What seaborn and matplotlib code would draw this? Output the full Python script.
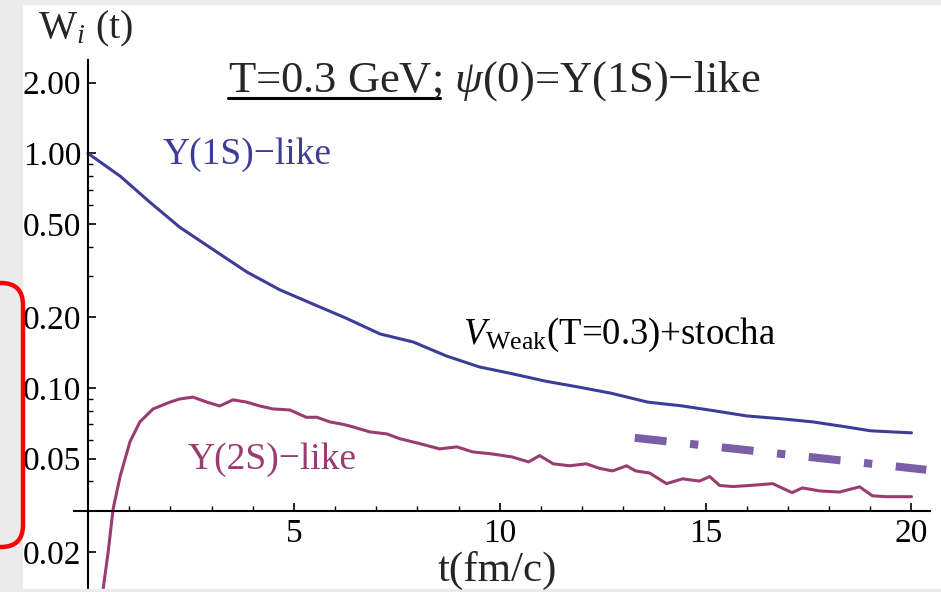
import numpy as np
import pandas as pd
import seaborn as sns
import matplotlib.pyplot as plt
from matplotlib.patches import Rectangle, FancyBboxPatch
from matplotlib.transforms import IdentityTransform
from matplotlib.lines import Line2D

#
# data
#

# Upsilon(1S)-like weight
t_1s = [0.0, 0.78, 1.5, 2.23, 3.03, 3.86, 4.66, 5.46, 6.28, 7.09, 7.9, 8.7, 9.5,
        10.3, 11.1, 11.9, 12.7, 13.6, 14.4, 15.2, 16.0, 16.8, 17.6, 18.4, 19.0, 19.5, 20.0]
w_1s = [1.0, 0.80, 0.62, 0.484, 0.39, 0.312, 0.262, 0.228, 0.198, 0.170, 0.157, 0.137, 0.123,
        0.115, 0.107, 0.101, 0.095, 0.087, 0.084, 0.080, 0.076, 0.074, 0.0717, 0.0683, 0.0657, 0.065, 0.0644]

# Upsilon(2S)-like weight
t_2s = [0.33, 0.37, 0.49, 0.61, 0.78, 1.02, 1.26, 1.58, 1.99, 2.23, 2.55, 2.89, 3.2, 3.52,
        3.86, 4.17, 4.49, 4.9, 5.3, 5.56, 5.87, 6.19, 6.43, 6.84, 7.26, 7.57, 8.06, 8.54,
        8.96, 9.34, 9.83, 10.3, 10.7, 10.97, 11.3, 11.7, 12.1, 12.43, 12.74, 13.08, 13.3,
        13.64, 14.05, 14.44, 14.85, 15.1, 15.34, 15.66, 16.07, 16.63, 17.1, 17.35, 17.77,
        18.25, 18.74, 19.05, 19.4, 19.7, 20.0]
w_2s = [0.010, 0.014, 0.020, 0.0305, 0.042, 0.059, 0.0717, 0.0814, 0.087, 0.0898, 0.0914, 0.087, 0.0838, 0.089,
        0.087, 0.0838, 0.0814, 0.0806, 0.075, 0.075, 0.0717, 0.070, 0.0683, 0.065, 0.0637, 0.0608, 0.0579, 0.055,
        0.0561, 0.0534, 0.0523, 0.0508, 0.0484, 0.0515, 0.0475, 0.0466, 0.0475, 0.0454, 0.0443, 0.0466, 0.0443,
        0.0434, 0.0391, 0.041, 0.0401, 0.0419, 0.0384, 0.038, 0.0384, 0.0391, 0.0358, 0.0375, 0.0364,
        0.036, 0.0379, 0.0347, 0.0344, 0.0344, 0.0344]

# dash-dot slope guide
t_guide = [13.28, 20.36]
w_guide = [0.0613, 0.0448]

x_ticks = [5, 10, 15, 20]
x_minor = [1, 2, 3, 4, 6, 7, 8, 9, 11, 12, 13, 14, 16, 17, 18, 19]
y_ticks = [0.02, 0.05, 0.10, 0.20, 0.50, 1.00, 2.00]
y_ticklabels = ["0.02", "0.05", "0.10", "0.20", "0.50", "1.00", "2.00"]
y_minor = [0.04, 0.06, 0.07, 0.08, 0.09, 0.3, 0.4, 0.6, 0.7, 0.8, 0.9]

df_1s = pd.DataFrame({"t": t_1s, "w": w_1s})
df_2s = pd.DataFrame({"t": t_2s, "w": w_2s})
df_guide = pd.DataFrame({"t": t_guide, "w": w_guide})

#
# style
#

sns.set_theme(style="ticks")
plt.rcParams["font.family"] = ["Liberation Serif", "DejaVu Serif"]
plt.rcParams["mathtext.fontset"] = "custom"
plt.rcParams["mathtext.rm"] = "Liberation Serif"
plt.rcParams["mathtext.it"] = "Liberation Serif:italic"
plt.rcParams["lines.scale_dashes"] = False

blue = "#3D3D99"
purple = "#993D70"
guide = "#7B5EA7"

fig = plt.figure(figsize=(9.41, 5.92), dpi=100)
W, H = 941, 592

# slide decorations: grey frame and red box on the left
fig.patches.append(Rectangle((0, 0), 22, H, transform=IdentityTransform(), color="#EBEBEB", zorder=0))
fig.patches.append(Rectangle((0, H - 4), W, 4, transform=IdentityTransform(), color="#EBEBEB", zorder=0))
fig.patches.append(Rectangle((0, 0), W, 3, transform=IdentityTransform(), color="#EBEBEB", zorder=0))
fig.patches.append(FancyBboxPatch((-40, H - 547), 63, 264, boxstyle="round,pad=0,rounding_size=22",
                                  transform=IdentityTransform(), fill=False, ec="red", lw=3.2, zorder=5))

ax = fig.add_axes([74 / W, 0, (930 - 74) / W, (592 - 60) / H])
ax.patch.set_alpha(0)

sns.lineplot(data=df_1s, x="t", y="w", ax=ax, color=blue, lw=2.2, sort=False)
sns.lineplot(data=df_2s, x="t", y="w", ax=ax, color=purple, lw=2.2, sort=False)
sns.lineplot(data=df_guide, x="t", y="w", ax=ax, color=guide, lw=5.8,
             linestyle=(0, (23, 17, 6, 17)), solid_capstyle="butt", dash_capstyle="butt")

ax.set_yscale("log")
ax.set_xlim(-0.34, 20.45)
ax.set_ylim(0.0135, 2.5)

# Mathematica-like crossing axes
for s in ["top", "right"]:
    ax.spines[s].set_visible(False)
ax.spines["bottom"].set_position(("data", 0.03))
ax.spines["left"].set_position(("data", 0))
for s in ["bottom", "left"]:
    ax.spines[s].set_color("black")
    ax.spines[s].set_linewidth(1.5)

ax.set_xticks(x_ticks)
ax.set_xticks(x_minor, minor=True)
ax.set_xticklabels([str(v) for v in x_ticks])
ax.set_yticks(y_ticks)
ax.set_yticks(y_minor, minor=True)
ax.set_yticklabels(y_ticklabels)
ax.tick_params(axis="both", which="both", bottom=True, left=True, top=False, right=False)
ax.tick_params(axis="both", which="major", direction="in", length=6, width=1.2,
               labelsize=24, colors="black")
ax.tick_params(axis="both", which="minor", direction="in", length=3.5, width=1.0, colors="black")
ax.tick_params(axis="x", which="major", pad=6)
ax.tick_params(axis="y", which="major", pad=5)
ax.set_xlabel("")
ax.set_ylabel("")

# curve labels
ax.text(1.82, 0.898, "Υ(1S)−like", color=blue, fontsize=27, va="baseline", ha="left")
ax.text(2.43, 0.0452, "Υ(2S)−like", color=purple, fontsize=27, va="baseline", ha="left")
ax.text(9.1, 0.154, r"$V_{\mathrm{Weak}}$(T=0.3)+stocha", color="black", fontsize=26.5,
        va="baseline", ha="left")

# axis labels
fig.text(38 / W, 1 - 38 / H, r"W$_{i}$ (t)", fontsize=29, ha="left", va="baseline")
fig.text(497 / W, 1 - 581 / H, "t(fm/c)", fontsize=31, ha="center", va="baseline")

# title with underlined first part
title_x, title_y = 228 / W, 1 - 92 / H
fig.text(title_x, title_y, r"T=0.3 GeV; $\psi$(0)=Υ(1S)−like", fontsize=32,
         ha="left", va="baseline")
fig.canvas.draw()
probe = fig.text(title_x, title_y, "T=0.3 GeV;", fontsize=32, ha="left", va="baseline")
bb = probe.get_window_extent(fig.canvas.get_renderer())
probe.remove()
fig.lines.append(Line2D([bb.x0, bb.x1], [H - 98, H - 98], transform=IdentityTransform(),
                        color="black", lw=2.2))

fig.savefig("out.png", dpi=100)
